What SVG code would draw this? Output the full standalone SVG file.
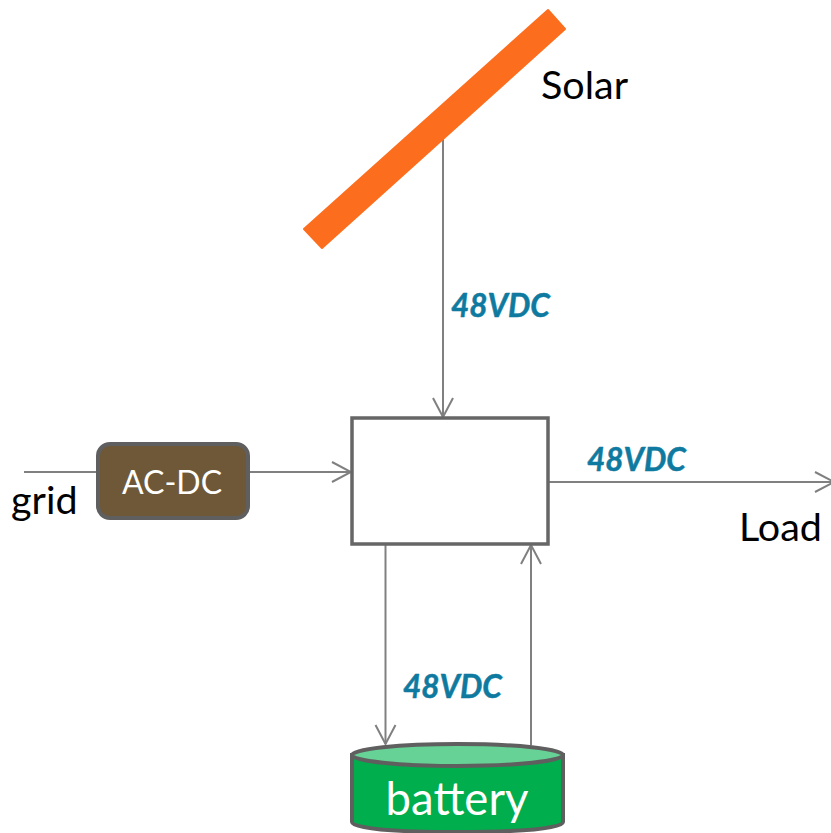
<svg xmlns="http://www.w3.org/2000/svg" width="831" height="833" viewBox="0 0 831 833">
<style>
.c{fill:none;stroke:#808080;stroke-width:2}
.s{stroke:#5f5f5f;stroke-width:4}
text{font-family:"Lato","Noto Sans","Liberation Sans",sans-serif}
.l{font-size:39.500px;fill:#000}
.v{font-size:31.500px;font-weight:700;font-style:italic;fill:#0f7aa0;stroke:#0f7aa0;stroke-width:.5}
</style>
<defs><marker id="a" markerUnits="userSpaceOnUse" markerWidth="22" markerHeight="24" refX="20" refY="12" orient="auto"><path d="M1 2L20 12L1 22" fill="none" stroke="#808080" stroke-width="2"/></marker></defs>
<rect width="831" height="833" fill="#fff"/>
<g id="connectors">
<path class="c" d="M443 138V417" marker-end="url(#a)"/>
<path class="c" d="M24 472H98"/>
<path class="c" d="M248 472H351" marker-end="url(#a)"/>
<path class="c" d="M548 482H834" marker-end="url(#a)"/>
<path class="c" d="M385.500 544V744" marker-end="url(#a)"/>
<path class="c" d="M531 745V545" marker-end="url(#a)"/>
</g>
<g id="solar"><path d="M548 10L565 29L322 248L304 229Z" fill="#fc6e1e" stroke="#fc6e1e" stroke-width="2" stroke-linejoin="round"/><text class="l" x="541" y="99" font-size="39">Solar</text></g>
<g id="grid"><text class="l" x="11" y="514">grid</text></g>
<g id="acdc"><rect class="s" x="98" y="444" width="150" height="74" rx="12" fill="#6e5838"/><text x="172" y="494" font-size="32" fill="#fff" text-anchor="middle">AC-DC</text></g>
<g id="controller"><rect x="352" y="418" width="196" height="126" fill="#fff" stroke="#666" stroke-width="3.500"/></g>
<g id="load"><text class="l" x="739" y="541">Load</text></g>
<g id="battery"><path class="s" d="M352 755V822C352 829 400 832 457 832C515 832 563 829 563 822V755Z" fill="#00ae4d"/><ellipse class="s" cx="457.500" cy="755" rx="105.500" ry="11" fill="#66d295"/><text x="457" y="815" font-size="45.500" fill="#fff" text-anchor="middle">battery</text></g>
<g id="labels"><text class="v" x="451" y="317">48VDC</text><text class="v" x="587" y="471">48VDC</text><text class="v" x="403" y="698">48VDC</text></g>
</svg>
